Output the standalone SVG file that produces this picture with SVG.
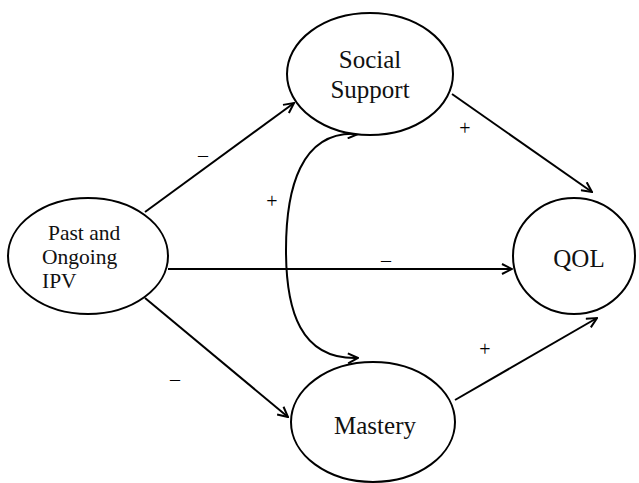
<svg xmlns="http://www.w3.org/2000/svg" width="639" height="483" viewBox="0 0 639 483">
<style>
.node{fill:#fff;stroke:#000;stroke-width:2}
.lbl{font-family:"Liberation Serif","Times New Roman",serif;font-size:25px;fill:#111}
.lbl2{font-family:"Liberation Serif","Times New Roman",serif;font-size:21.5px;fill:#111}
.sign{font-family:"Liberation Serif","Times New Roman",serif;font-size:20px;fill:#000}
.edge{fill:none;stroke:#000;stroke-width:2}
</style>
<defs>
<marker id="arr" viewBox="0 0 12 12" refX="11" refY="6" markerWidth="12" markerHeight="12" markerUnits="userSpaceOnUse" orient="auto-start-reverse">
<path d="M1,1 L11,6 L1,11" fill="none" stroke="#000" stroke-width="2" stroke-linejoin="miter"/>
</marker>
</defs>
<rect width="639" height="483" fill="#fff"/>
<g id="connectors">
<line class="edge" x1="145" y1="212" x2="294" y2="103" marker-end="url(#arr)"/>
<line class="edge" x1="452" y1="94" x2="592" y2="192" marker-end="url(#arr)"/>
<line class="edge" x1="168" y1="269" x2="512" y2="269" marker-end="url(#arr)"/>
<line class="edge" x1="145" y1="298" x2="288" y2="417" marker-end="url(#arr)"/>
<line class="edge" x1="455" y1="400" x2="597" y2="318" marker-end="url(#arr)"/>
<path class="edge" d="M358 134 C300 130 286 190 286 250 C286 310 300 360 358 358" marker-start="url(#arr)" marker-end="url(#arr)"/>
<text class="sign" x="203" y="162" text-anchor="middle">–</text>
<text class="sign" x="465" y="135" text-anchor="middle">+</text>
<text class="sign" x="272" y="208" text-anchor="middle">+</text>
<text class="sign" x="386" y="267" text-anchor="middle">–</text>
<text class="sign" x="485" y="356" text-anchor="middle">+</text>
<text class="sign" x="175" y="386" text-anchor="middle">–</text>
</g>
<g id="ipv">
<ellipse class="node" cx="88" cy="256" rx="80" ry="58"/>
<text class="lbl2" x="48" y="240">Past and</text>
<text class="lbl2" x="42" y="264">Ongoing</text>
<text class="lbl2" x="42" y="288">IPV</text>
</g>
<g id="social-support">
<ellipse class="node" cx="370" cy="74" rx="83" ry="61"/>
<text class="lbl" x="370" y="68" text-anchor="middle">Social</text>
<text class="lbl" x="370" y="98" text-anchor="middle">Support</text>
</g>
<g id="qol">
<ellipse class="node" cx="574" cy="256" rx="61" ry="58"/>
<text class="lbl" x="579" y="267" text-anchor="middle">QOL</text>
</g>
<g id="mastery">
<ellipse class="node" cx="373" cy="422" rx="82" ry="60"/>
<text class="lbl" x="375" y="434" text-anchor="middle">Mastery</text>
</g>
</svg>
